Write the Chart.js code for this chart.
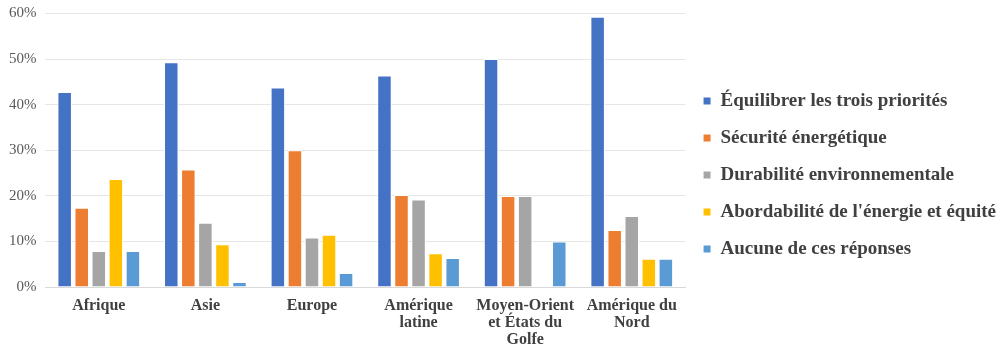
<!DOCTYPE html>
<html>
<head>
<meta charset="utf-8">
<script src="https://cdn.jsdelivr.net/npm/chart.js@4/dist/chart.umd.min.js"></script>
<style>
  html, body { margin: 0; padding: 0; background: #fff; }
  #wrap { width: 1000px; height: 352px; }
</style>
</head>
<body>
<div id="wrap"><canvas id="chart-area"></canvas></div>
<script>
var regions = ['Afrique', 'Asie', 'Europe', ['Amérique', 'latine'], ['Moyen-Orient', 'et États du', 'Golfe'], ['Amérique du', 'Nord']];
var seriesNames = ['Équilibrer les trois priorités', 'Sécurité énergétique', 'Durabilité environnementale', "Abordabilité de l'énergie et équité", 'Aucune de ces réponses'];
var seriesColors = ['#4472C4', '#ED7D31', '#A5A5A5', '#FFC000', '#5B9BD5'];

var equilibrer = [42.8, 49.3, 43.8, 46.4, 50.0, 59.3];
var securite = [17.4, 25.8, 30.0, 20.2, 20.0, 12.5];
var durabilite = [7.9, 14.1, 10.9, 19.2, 20.0, 15.6];
var abordabilite = [23.7, 9.4, 11.5, 7.4, 0, 6.2];
var aucune = [7.9, 1.1, 3.1, 6.4, 10.0, 6.2];

var yTicks = [0, 10, 20, 30, 40, 50, 60];

let buildChart = function () {
	var allSeries = [equilibrer, securite, durabilite, abordabilite, aucune];
	var datasets = allSeries.map(function (vals, i) {
		return {
			label: seriesNames[i],
			data: vals,
			backgroundColor: seriesColors[i],
			borderColor: '#ffffff',
			borderWidth: 1,
			categoryPercentage: 0.8,
			barPercentage: 0.85
		};
	});

	var ctx = document.getElementById('chart-area').getContext('2d');
	var config = {
		type: 'bar',
		data: { labels: regions, datasets: datasets },
		options: {
			responsive: true,
			maintainAspectRatio: false,
			animation: false,
			layout: { padding: { top: 0, right: -6, left: 0, bottom: 2 } },
			plugins: {
				legend: {
					position: 'right',
					align: 'center',
					maxWidth: 330,
					labels: {
						boxWidth: 8,
						boxHeight: 8,
						padding: 18,
						color: '#404040',
						font: { family: 'Liberation Serif', size: 19, weight: 'bold' }
					}
				},
				tooltip: { enabled: false }
			},
			scales: {
				x: {
					grid: { display: false },
					border: { color: '#d9d9d9' },
					ticks: {
						color: '#404040',
						maxRotation: 0,
						autoSkip: false,
						padding: 2,
						font: { family: 'Liberation Serif', size: 16, weight: 'bold', lineHeight: 1.06 }
					}
				},
				y: {
					min: 0,
					max: 60,
					afterBuildTicks: function (axis) {
						axis.ticks = yTicks.map(function (v) { return { value: v }; });
					},
					grid: { color: '#e6e6e6', drawTicks: false },
					border: { display: false },
					ticks: {
						color: '#595959',
						padding: 9,
						font: { family: 'Liberation Serif', size: 15, lineHeight: 0.6 },
						callback: function (v) { return v + '%'; }
					}
				}
			}
		}
	};
	window.myBar = new Chart(ctx, config);
};

Promise.all([
	document.fonts.load('bold 16px "Liberation Serif"'),
	document.fonts.load('15px "Liberation Serif"')
]).then(buildChart, buildChart);
</script>
</body>
</html>
